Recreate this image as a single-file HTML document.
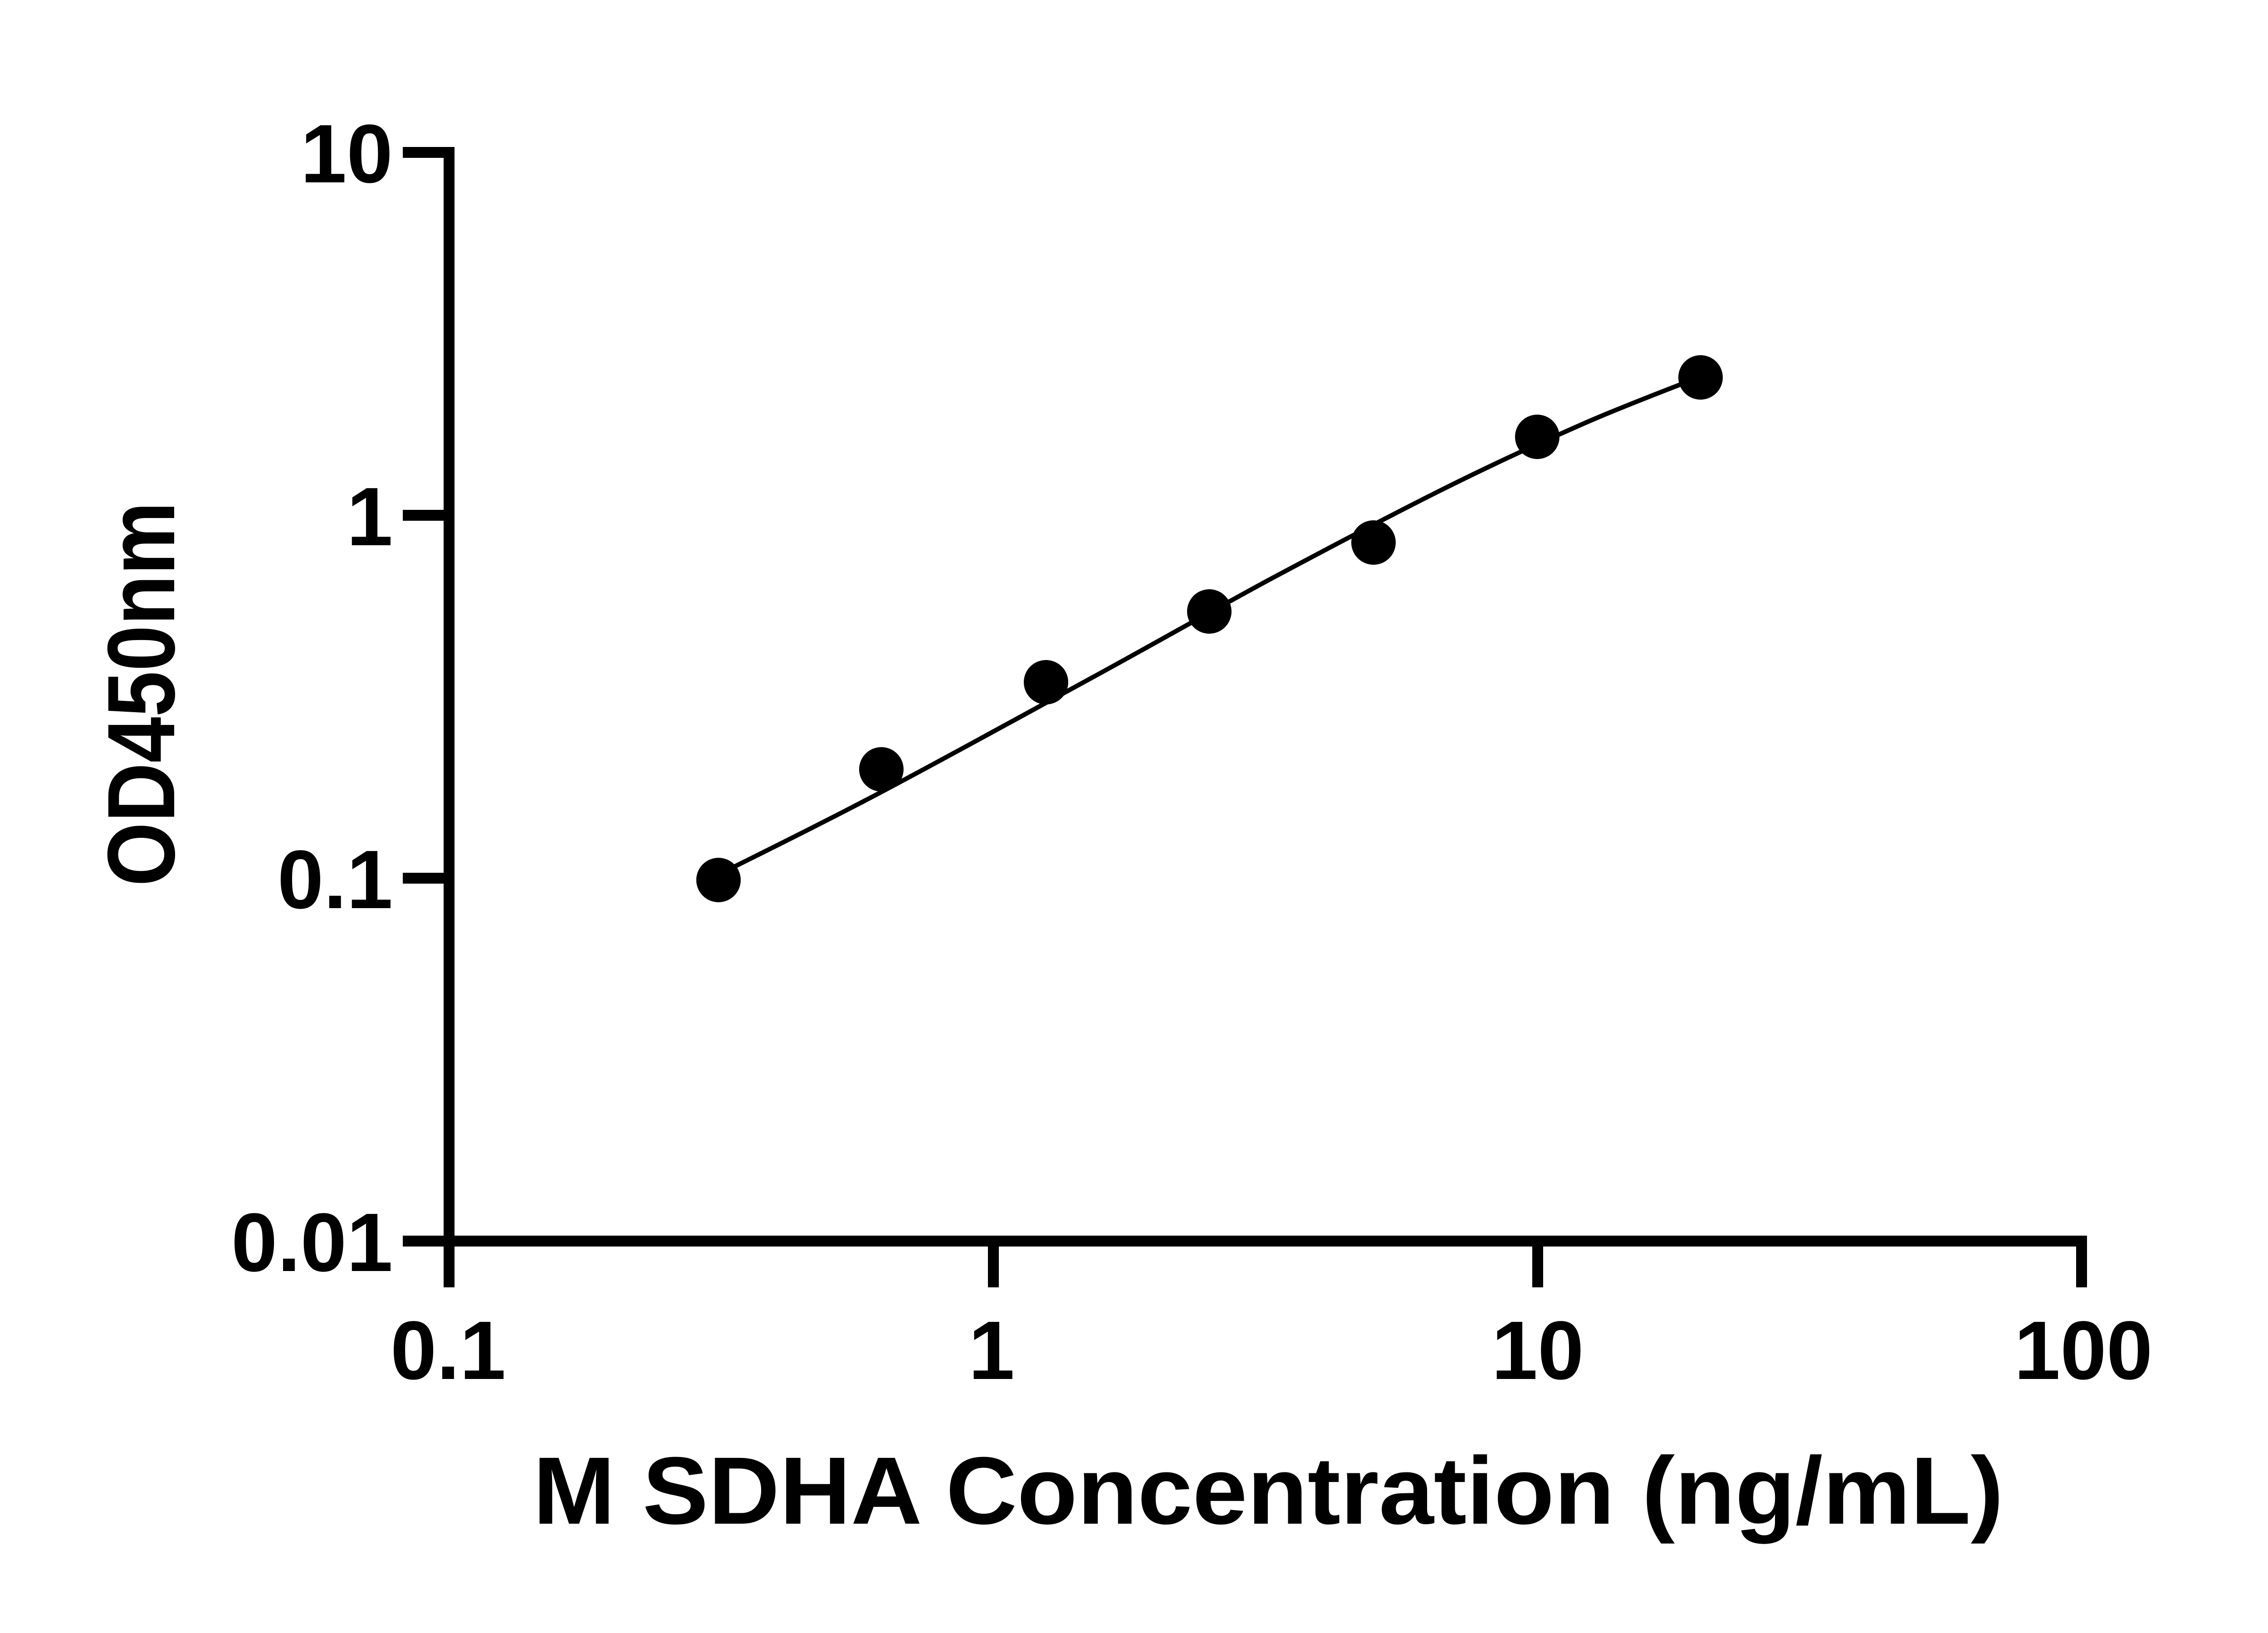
<!DOCTYPE html>
<html>
<head>
<meta charset="utf-8">
<style>
  html, body { margin: 0; padding: 0; background: #ffffff; }
  body { width: 5142px; height: 3600px; overflow: hidden; }
  svg { display: block; }
  text { font-family: "Liberation Sans", "DejaVu Sans", sans-serif; font-weight: bold; fill: #000; }
</style>
</head>
<body>
<svg width="5142" height="3600" viewBox="0 0 5142 3600" xmlns="http://www.w3.org/2000/svg">
  <rect x="0" y="0" width="5142" height="3600" fill="#ffffff"/>

  <!-- Y axis -->
  <rect x="978" y="324" width="24" height="2514" fill="#000"/>
  <!-- Y ticks -->
  <rect x="888" y="324" width="114" height="24" fill="#000"/>
  <rect x="888" y="1124" width="114" height="24" fill="#000"/>
  <rect x="888" y="1924" width="114" height="24" fill="#000"/>
  <rect x="888" y="2724" width="114" height="24" fill="#000"/>

  <!-- X axis -->
  <rect x="888" y="2724" width="3713" height="24" fill="#000"/>
  <!-- X ticks -->
  <rect x="978" y="2724" width="24" height="114" fill="#000"/>
  <rect x="2178" y="2724" width="24" height="114" fill="#000"/>
  <rect x="3378" y="2724" width="24" height="114" fill="#000"/>
  <rect x="4577" y="2724" width="24" height="114" fill="#000"/>

  <!-- Y tick labels -->
  <text x="866" y="402" font-size="183" text-anchor="end">10</text>
  <text x="866" y="1202" font-size="183" text-anchor="end">1</text>
  <text x="866" y="2002" font-size="183" text-anchor="end">0.1</text>
  <text x="866" y="2802" font-size="183" text-anchor="end">0.01</text>

  <!-- X tick labels -->
  <text x="988" y="3040" font-size="183" text-anchor="middle">0.1</text>
  <text x="2186" y="3040" font-size="183" text-anchor="middle">1</text>
  <text x="3390" y="3040" font-size="183" text-anchor="middle">10</text>
  <text x="4593" y="3040" font-size="183" text-anchor="middle">100</text>

  <!-- Axis titles -->
  <text x="1175" y="3359" font-size="211" textLength="3242" lengthAdjust="spacingAndGlyphs">M SDHA Concentration (ng/mL)</text>
  <text transform="translate(384,1530) rotate(-90)" font-size="211" text-anchor="middle" textLength="848" lengthAdjust="spacingAndGlyphs">OD450nm</text>

  <!-- Fitted curve -->
  <path fill="none" stroke="#000" stroke-width="10" stroke-linecap="round"
    d="M1584,1928 C1644,1898 1807,1818 1943,1746 C2079,1674 2257,1576 2400,1498 C2543,1420 2667,1349 2800,1277 C2933,1206 3083,1127 3200,1069 C3317,1011 3409,970 3500,930 C3592,890 3708,847 3749,830"/>

  <!-- Data points -->
  <circle cx="1584" cy="1940" r="49" fill="#000"/>
  <circle cx="1943" cy="1696" r="49" fill="#000"/>
  <circle cx="2306" cy="1504" r="49" fill="#000"/>
  <circle cx="2666" cy="1348" r="49" fill="#000"/>
  <circle cx="3028" cy="1196" r="49" fill="#000"/>
  <circle cx="3389" cy="963" r="49" fill="#000"/>
  <circle cx="3749" cy="832" r="49" fill="#000"/>
</svg>
</body>
</html>
